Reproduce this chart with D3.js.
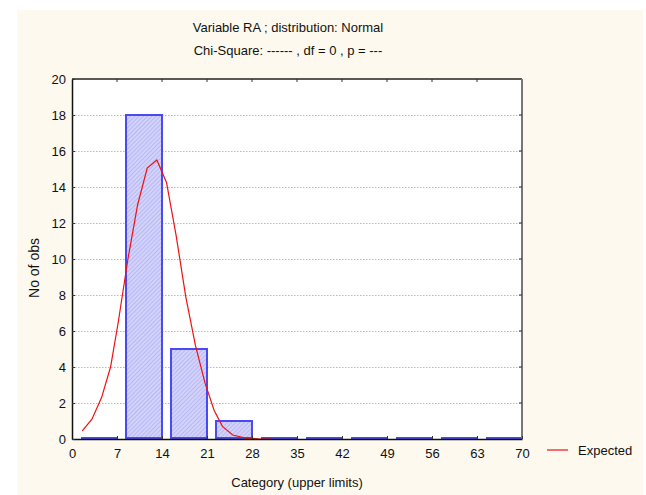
<!DOCTYPE html>
<html>
<head>
<meta charset="utf-8">
<script src="https://cdn.jsdelivr.net/npm/d3@7"></script>
<style>
  html, body { margin: 0; padding: 0; background: #ffffff; }
  svg text { font-family: "Liberation Sans", Arial, sans-serif; fill: #111; }
</style>
</head>
<body>
<svg id="chart" width="646" height="495"></svg>
<script>
// Histogram bins (upper limits) and observed counts
const upperLimits = [7, 14, 21, 28, 35, 42, 49, 56, 63, 70];
const observed    = [0, 18, 5, 1, 0, 0, 0, 0, 0, 0];

// Expected (normal) curve points
const expectedX = [1.6, 3.1, 4.6, 6.0, 7.2, 8.7, 10.2, 11.7, 13.2, 14.7, 16.2, 17.7, 19.2, 20.7, 22.1, 23.4, 25.0, 27.0, 29.0, 31.0];
const expectedY = [0.45, 1.1, 2.3, 4.0, 6.5, 10.0, 13.0, 15.05, 15.5, 14.25, 11.3, 7.9, 5.2, 3.1, 1.6, 0.7, 0.22, 0.05, 0.01, 0.0];

const xTicks = [0, 7, 14, 21, 28, 35, 42, 49, 56, 63, 70];
const yTicks = [0, 2, 4, 6, 8, 10, 12, 14, 16, 18, 20];

const titleLines = ["Variable RA ; distribution: Normal", "Chi-Square: ------ , df = 0 , p = ---"];

const svg = d3.select("#chart");
const W = 646, H = 495;
const plot = { left: 72, top: 79, right: 522, bottom: 439 };

// panel background
svg.append("rect").attr("x", 17).attr("y", 10).attr("width", 626).attr("height", 485).attr("fill", "#fdf9ee");
svg.append("rect").attr("x", plot.left).attr("y", plot.top)
  .attr("width", plot.right - plot.left).attr("height", plot.bottom - plot.top).attr("fill", "#ffffff");

const x = d3.scaleLinear().domain([0, 70]).range([plot.left, plot.right]);
const y = d3.scaleLinear().domain([0, 20]).range([plot.bottom, plot.top]);

// hatch pattern for bars
const defs = svg.append("defs");
const pat = defs.append("pattern").attr("id", "hatch").attr("patternUnits", "userSpaceOnUse")
  .attr("width", 3).attr("height", 3).attr("patternTransform", "rotate(45)");
pat.append("rect").attr("width", 3).attr("height", 3).attr("fill", "#d2d2fb");
pat.append("line").attr("x1", 0).attr("y1", 0).attr("x2", 0).attr("y2", 3)
  .attr("stroke", "#a9a9ef").attr("stroke-width", 1.2);

// horizontal grid
svg.append("g").selectAll("line").data(yTicks.filter(d => d > 0 && d < 20)).join("line")
  .attr("x1", plot.left).attr("x2", plot.right)
  .attr("y1", d => y(d) + 0.5).attr("y2", d => y(d) + 0.5)
  .attr("stroke", "#b8b8b8").attr("stroke-width", 1).attr("stroke-dasharray", "1.5,1.5");

// bars
const binWidth = 7;
const gap = 0.2 * binWidth;
svg.append("g").selectAll("path").data(observed).join("path")
  .attr("d", (v, i) => {
    const x0 = x(upperLimits[i] - binWidth + gap), x1 = x(upperLimits[i]);
    const y0 = y(0) - 1, y1 = Math.min(y(v), y(0) - 1);
    return `M${x0},${y0}H${x1}V${y1}H${x0}Z`;
  })
  .attr("fill", "url(#hatch)").attr("stroke", "#4a4af5").attr("stroke-width", 2);

// expected curve
const pts = expectedX.map((v, i) => [v, expectedY[i]]);
svg.append("path").datum(pts)
  .attr("d", d3.line().x(d => x(d[0])).y(d => y(d[1])))
  .attr("fill", "none").attr("stroke", "#ee1111").attr("stroke-width", 1.2);

// frame
svg.append("line").attr("x1", plot.left).attr("x2", plot.right).attr("y1", plot.top).attr("y2", plot.top)
  .attr("stroke", "#222").attr("stroke-width", 1.5);
svg.append("line").attr("x1", plot.right).attr("x2", plot.right).attr("y1", plot.top).attr("y2", plot.bottom)
  .attr("stroke", "#777").attr("stroke-width", 2);

// axes with inward ticks
const xAxis = svg.append("g").attr("transform", `translate(0,${plot.bottom})`)
  .call(d3.axisBottom(x).tickValues(xTicks).tickSizeInner(-3).tickSizeOuter(0).tickPadding(10));
const yAxis = svg.append("g").attr("transform", `translate(${plot.left},0)`)
  .call(d3.axisLeft(y).tickValues(yTicks).tickSizeInner(-3).tickSizeOuter(0).tickPadding(6));
[xAxis, yAxis].forEach(g => {
  g.select(".domain").attr("stroke", "#111").attr("stroke-width", 1.5);
  g.selectAll(".tick line").attr("stroke", "#333");
  g.selectAll(".tick text").attr("font-size", 13).attr("fill", "#111")
    .style("font-family", "'Liberation Sans', Arial, sans-serif");
});

// top and right inward ticks
svg.append("g").selectAll("line").data(xTicks.slice(1, -1)).join("line")
  .attr("x1", d => x(d)).attr("x2", d => x(d)).attr("y1", plot.top).attr("y2", plot.top + 3)
  .attr("stroke", "#333");
svg.append("g").selectAll("line").data(yTicks.slice(1, -1)).join("line")
  .attr("x1", plot.right - 3).attr("x2", plot.right).attr("y1", d => y(d)).attr("y2", d => y(d))
  .attr("stroke", "#333");

// titles
svg.append("g").selectAll("text").data(titleLines).join("text")
  .attr("x", 288).attr("y", (d, i) => 32 + i * 23)
  .attr("text-anchor", "middle").attr("font-size", 13).text(d => d);

svg.append("text").attr("x", (plot.left + plot.right) / 2).attr("y", 487)
  .attr("text-anchor", "middle").attr("font-size", 13).text("Category (upper limits)");

svg.append("text").attr("transform", "translate(39,268) rotate(-90)")
  .attr("text-anchor", "middle").attr("font-size", 14).text("No of obs");

// legend
svg.append("line").attr("x1", 547).attr("x2", 568).attr("y1", 450).attr("y2", 450)
  .attr("stroke", "#ee1111").attr("stroke-width", 1.2);
svg.append("text").attr("x", 578).attr("y", 455).attr("font-size", 13).text("Expected");
</script>
</body>
</html>
